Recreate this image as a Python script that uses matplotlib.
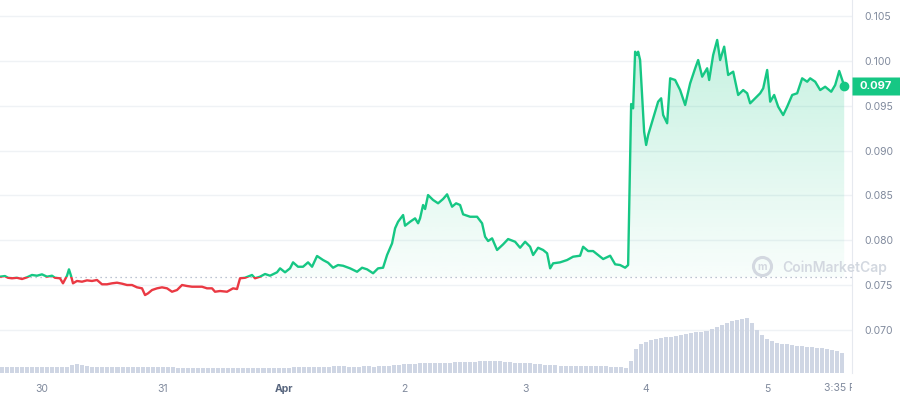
import numpy as np
import matplotlib
matplotlib.use("Agg")
import matplotlib.pyplot as plt
from matplotlib.patches import Rectangle
from matplotlib.path import Path
from matplotlib.transforms import Bbox, TransformedBbox, blended_transform_factory

plt.rcParams['font.family'] = ['Inter', 'DejaVu Sans']

# hours from Mar 30 00:00, price in USD
price_hours = [
    -8.34, -7.35, -6.76, -5.96, -4.97, -3.97, -2.98, -1.99, -0.99, 0.0,
    0.99, 1.99, 2.58, 3.58, 4.17, 4.97, 5.36, 5.76, 6.16, 6.95,
    7.95, 8.94, 9.93, 10.93, 11.92, 12.91, 13.91, 14.90, 15.90, 16.89,
    17.88, 18.88, 19.87, 20.47, 21.06, 21.86, 22.85, 23.84, 24.84, 25.83,
    26.82, 27.82, 28.81, 29.80, 30.80, 31.79, 32.78, 33.78, 34.37, 35.37,
    36.76, 37.95, 38.74, 39.34, 40.33, 41.72, 42.32, 43.31, 44.31, 45.30,
    46.69, 47.29, 48.28, 49.27, 49.87, 50.86, 51.86, 52.85, 53.65, 54.64,
    55.83, 56.83, 57.82, 58.81, 59.81, 61.20, 62.59, 63.58, 64.57, 65.77,
    66.76, 67.75, 68.55, 69.54, 70.14, 70.73, 71.73, 72.12, 73.12, 74.11,
    74.71, 75.10, 75.70, 76.10, 76.69, 77.69, 78.68, 79.67, 80.47, 81.46,
    82.26, 83.05, 83.65, 85.04, 86.43, 87.42, 88.02, 88.62, 89.41, 90.40,
    91.60, 92.59, 93.98, 94.97, 95.97, 96.96, 97.56, 98.55, 99.54, 100.34,
    100.94, 101.53, 102.92, 104.31, 105.50, 106.89, 107.49, 108.49, 109.48, 110.47,
    111.47, 112.86, 113.85, 114.84, 115.84, 116.43, 117.03, 117.42, 117.82, 118.22,
    118.42, 118.81, 119.21, 119.61, 120.01, 120.41, 121.20, 121.80, 122.39, 122.99,
    123.39, 124.18, 124.78, 125.77, 126.76, 127.76, 128.75, 129.75, 130.34, 131.14,
    132.13, 132.53, 133.32, 134.12, 134.71, 135.51, 136.30, 137.30, 138.29, 139.28,
    140.08, 140.67, 141.67, 142.66, 143.26, 144.05, 144.65, 145.44, 146.24, 147.23,
    148.02, 149.02, 150.01, 151.00, 152.00, 152.59, 153.59, 154.58, 155.57, 156.77,
    157.56, 158.36, 159.35,
]
prices = [
    0.07593, 0.07600, 0.07581, 0.07575, 0.07581, 0.07567, 0.07586, 0.07612, 0.07604, 0.07619,
    0.07593, 0.07604, 0.07581, 0.07575, 0.07519, 0.07604, 0.07675, 0.07604, 0.07519, 0.07545,
    0.07537, 0.07552, 0.07545, 0.07556, 0.07508, 0.07508, 0.07519, 0.07526, 0.07515, 0.07500,
    0.07500, 0.07474, 0.07463, 0.07388, 0.07407, 0.07444, 0.07463, 0.07474, 0.07463, 0.07425,
    0.07444, 0.07500, 0.07489, 0.07481, 0.07481, 0.07481, 0.07463, 0.07463, 0.07425, 0.07433,
    0.07425, 0.07463, 0.07455, 0.07575, 0.07581, 0.07612, 0.07575, 0.07593, 0.07623, 0.07604,
    0.07642, 0.07686, 0.07642, 0.07686, 0.07753, 0.07704, 0.07704, 0.07753, 0.07704, 0.07824,
    0.07779, 0.07749, 0.07693, 0.07723, 0.07715, 0.07686, 0.07648, 0.07693, 0.07675, 0.07631,
    0.07686, 0.07693, 0.07835, 0.07965, 0.08133, 0.08206, 0.08281, 0.08162, 0.08206, 0.08244,
    0.08189, 0.08244, 0.08393, 0.08348, 0.08504, 0.08449, 0.08412, 0.08460, 0.08512, 0.08374,
    0.08412, 0.08393, 0.08289, 0.08262, 0.08262, 0.08189, 0.08039, 0.07991, 0.08021, 0.07891,
    0.07954, 0.08013, 0.07983, 0.07916, 0.07983, 0.07927, 0.07835, 0.07916, 0.07891, 0.07854,
    0.07686, 0.07742, 0.07753, 0.07779, 0.07816, 0.07827, 0.07927, 0.07879, 0.07879, 0.07835,
    0.07790, 0.07827, 0.07731, 0.07723, 0.07693, 0.07723, 0.09520, 0.09472, 0.10104, 0.10067,
    0.10104, 0.10011, 0.09621, 0.09211, 0.09063, 0.09174, 0.09323, 0.09434, 0.09546, 0.09584,
    0.09397, 0.09305, 0.09807, 0.09788, 0.09676, 0.09509, 0.09751, 0.09919, 0.10011, 0.09825,
    0.09919, 0.09788, 0.10067, 0.10235, 0.10011, 0.10160, 0.09844, 0.09881, 0.09621, 0.09676,
    0.09640, 0.09528, 0.09584, 0.09640, 0.09695, 0.09900, 0.09546, 0.09621, 0.09490, 0.09397,
    0.09490, 0.09621, 0.09640, 0.09807, 0.09769, 0.09807, 0.09769, 0.09676, 0.09713, 0.09657,
    0.09732, 0.09889, 0.09724,
]
open_price = 0.07589

# hourly volume (arbitrary units), first bar Mar 29 16:00
vol_start_hour = -8
volumes = [
    0.6, 0.6, 0.6, 0.6, 0.6, 0.6, 0.6, 0.6,
    0.6, 0.6, 0.6, 0.6, 0.6, 0.6,
    0.8, 0.9, 0.8, 0.7,
    0.6, 0.6, 0.6, 0.6, 0.6, 0.6, 0.6, 0.6, 0.6, 0.6, 0.6, 0.6, 0.6, 0.6,
    0.6, 0.6, 0.6, 0.5, 0.5, 0.5, 0.5, 0.5,
    0.5, 0.5, 0.5, 0.5, 0.5, 0.5, 0.5, 0.5, 0.5, 0.5, 0.5, 0.5, 0.5, 0.5, 0.5, 0.5,
    0.5, 0.5, 0.6, 0.6, 0.6, 0.6, 0.6, 0.6, 0.6,
    0.6, 0.7, 0.7, 0.7, 0.6, 0.6, 0.6, 0.7, 0.7, 0.6, 0.7, 0.7, 0.7,
    0.8, 0.8, 0.9, 0.9, 0.9, 1.0, 1.0, 1.0,
    1.0, 1.0, 1.0, 1.0, 1.1, 1.1, 1.1,
    1.1, 1.1, 1.2, 1.2, 1.2, 1.2, 1.2, 1.1,
    1.1, 1.0, 1.0, 1.0, 1.0, 0.9, 0.9, 0.8,
    0.8, 0.8, 0.7, 0.7, 0.7, 0.7, 0.7, 0.7, 0.7, 0.7, 0.7, 0.7, 0.6, 0.6, 0.6, 0.5,
    1.2, 2.4, 2.9, 3.1, 3.3, 3.4, 3.5, 3.6, 3.65, 3.75,
    3.85, 3.95, 4.0, 4.1, 4.15, 4.25, 4.4, 4.6, 4.8, 5.0,
    5.2, 5.3, 5.45, 5.5, 5.0, 4.3, 3.8, 3.4, 3.2, 3.05,
    2.95, 2.9, 2.85, 2.75, 2.7, 2.65, 2.6, 2.55, 2.5, 2.4,
    2.35, 2.2, 2.0,
]

day_ticks = [0, 24, 48, 72, 96, 120, 144]
day_labels = ['30', '31', 'Apr', '2', '3', '4', '5']
price_ticks = [0.070, 0.075, 0.080, 0.085, 0.090, 0.095, 0.100, 0.105]
last_label = '3:35 PM'

GREEN = '#16c784'
RED = '#ea3943'
GRID = '#eff2f5'
LABEL = '#808a9d'
MARK = '#d3d8e0'

t = np.array(price_hours)
p = np.array(prices)

fig = plt.figure(figsize=(9, 4), dpi=100)
ax_right = 852 / 900
ax = fig.add_axes([0, 27 / 400, ax_right, 373 / 400])
ax.set_xlim(-8.34, 160.9)
ax.set_ylim(0.06518, 0.10681)

for s in ['top', 'left', 'bottom']:
    ax.spines[s].set_visible(False)
ax.spines['right'].set_color('#e6e9ef')
ax.set_yticks(price_ticks)
ax.set_yticklabels([f'{v:.3f}' for v in price_ticks])
ax.grid(axis='y', color=GRID, lw=1)
ax.set_axisbelow(True)

# volume bars on a hidden twin axis
axv = ax.twinx()
vol_hours = np.arange(vol_start_hour, vol_start_hour + len(volumes))
axv.bar(vol_hours, volumes, width=0.8, color='#cfd6e4', linewidth=0)
axv.set_ylim(0, 37.3)
axv.axis('off')
ax.yaxis.tick_right()
ax.tick_params(axis='y', length=0, pad=9, labelsize=7.5, labelcolor=LABEL)
ax.tick_params(axis='x', length=0, pad=8, labelsize=7.5, labelcolor=LABEL)
ax.set_xticks(day_ticks)
ax.set_xticklabels(day_labels)
for lab in ax.get_xticklabels():
    if lab.get_text() == 'Apr':
        lab.set_fontweight('bold')
        lab.set_color('#58667e')

# gradient fill above the open price
xmin, xmax = t[0], t[-1]
ytop = ax.get_ylim()[1]
fill = ax.fill_between(t, np.maximum(p, open_price), open_price, facecolor='none', edgecolor='none')
frac = np.linspace(0, 1, 256)
grad = np.zeros((256, 1, 4))
grad[:, 0, :3] = matplotlib.colors.to_rgb(GREEN)
grad[:, 0, 3] = 0.03 + 0.25 * frac
im = ax.imshow(grad, extent=[xmin, xmax, open_price, ytop], origin='lower', aspect='auto', zorder=1)
clip = Path.make_compound_path(*fill.get_paths())
im.set_clip_path(clip, ax.transData)

# price line, green above / red below the open price
big = 1.0
up = Rectangle((xmin - 20, open_price), 200, big, transform=ax.transData)
dn = Rectangle((xmin - 20, open_price - big), 200, big, transform=ax.transData)
lg, = ax.plot(t, p, color=GREEN, lw=1.7, zorder=3, solid_joinstyle='round')
lr, = ax.plot(t, p, color=RED, lw=1.7, zorder=3, solid_joinstyle='round')
lg.set_clip_path(up)
lr.set_clip_path(dn)

ax.axhline(open_price, color='#a6b0c3', lw=0.9, ls=(0, (1, 3)), zorder=2)
ax.plot(t[-1], p[-1], 'o', color=GREEN, ms=6, zorder=4)

# current price tag on the right
tr = blended_transform_factory(fig.transFigure, ax.transData)
tag = Path([(-24, -9.5), (24, -9.5), (24, 9.5), (-24, 9.5), (-24, -9.5)],
           [Path.MOVETO, Path.LINETO, Path.LINETO, Path.LINETO, Path.CLOSEPOLY])
ax.plot([876 / 900], [p[-1]], marker=tag, ms=34.5, color=GREEN, mec='none',
        transform=tr, clip_on=False, zorder=5)
ax.text(876 / 900, p[-1], f'{p[-1]:.3f}', transform=tr, ha='center', va='center',
        color='white', fontsize=8, fontweight='bold', zorder=6, clip_on=False)

# last time label, cut at the plot edge
trx = blended_transform_factory(ax.transData, fig.transFigure)
txt = ax.text(t[-1], 1 - 388 / 400, last_label, transform=trx, ha='center', va='center',
              fontsize=7.5, color=LABEL)
txt.set_clip_box(TransformedBbox(Bbox([[0, 0], [ax_right, 1]]), fig.transFigure))
txt.set_clip_on(True)

# watermark
fig.text(782 / 900, 1 - 268 / 400, 'CoinMarketCap', fontsize=10, fontweight='semibold',
         color=MARK, ha='left', va='center')
fig.lines.append(plt.Line2D([762 / 900], [1 - 266 / 400], marker='o', ms=13, mfc='none',
                            mec=MARK, mew=2.2, transform=fig.transFigure))
fig.text(762 / 900, 1 - 266.5 / 400, 'm', fontsize=7.5, fontweight='bold',
         color=MARK, ha='center', va='center')

fig.savefig('out.png', dpi=100)
